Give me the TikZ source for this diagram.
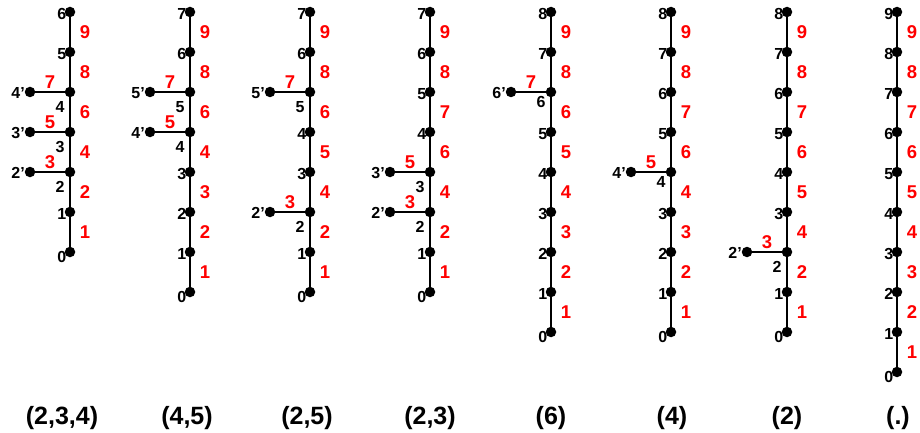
\documentclass[tikz,border=0pt]{standalone}
\usepackage{fontspec}
\setmainfont{Liberation Sans}
\usetikzlibrary{calc}
\tikzset{
  dot/.style={circle, fill=black, inner sep=0pt, minimum size=10.5pt},
  vlab/.style={font=\fontsize{16}{16}\selectfont\bfseries, inner sep=0pt, text=black},
  elab/.style={font=\fontsize{18.5}{18.5}\selectfont\bfseries, inner sep=0pt, text=red},
  capt/.style={font=\fontsize{25}{25}\selectfont\bfseries, inner sep=0pt, text=black, anchor=base},
  stem/.style={line width=2.3pt, draw=black}
}
% #1 id, #2 x, #3 n, #4 trunk edge labels, #5 plain nodes
\newcommand\mytrunk[5]{%
  \foreach \k in {0,...,#3}{
    \node[dot] (t#1-\k) at (#2,{12+40*(#3-\k)}) {};
  }
  \foreach \lab [count=\k] in {#4}{
    \pgfmathtruncatemacro\j{\k-1}
    \draw[stem] (t#1-\j.center) -- (t#1-\k.center);
    \node[elab] (t#1-e\k) at ($($(t#1-\j.center)!0.5!(t#1-\k.center)$)+(15,0)$) {\lab};
  }
  \foreach \k in {#5}{
    \pgfmathsetmacro\dy{ifthenelse(\k==0,5,2)}
    \node[vlab, anchor=east] (t#1-v\k) at ($(t#1-\k.center)+(-3.5,\dy)$) {\k};
  }
}
% #1 id, #2 node, #3 red label, #4 dy of node label
\newcommand\mybranch[4]{%
  \node[dot] (t#1-#2p) at ($(t#1-#2.center)+(-40,0)$) {};
  \draw[stem] (t#1-#2.center) -- (t#1-#2p.center);
  \node[elab, anchor=south] (t#1-b#2) at ($($(t#1-#2.center)!0.5!(t#1-#2p.center)$)+(0,-3)$) {#3};
  \node[vlab, anchor=east] (t#1-q#2) at ($(t#1-#2p.center)+(-5,1)$) {#2’};
  \node[vlab] (t#1-v#2) at ($(t#1-#2.center)+(-10,#4)$) {#2};
}
\begin{document}
\begin{tikzpicture}[x=1pt,y=-1pt]
  \useasboundingbox (0,0) rectangle (920,433);
  % tree 1
  \mytrunk{1}{70}{6}{1,2,4,6,8,9}{0,1,5,6}
  \mybranch{1}{2}{3}{15}
  \mybranch{1}{3}{5}{15}
  \mybranch{1}{4}{7}{15}
  \node[capt] (c1) at (62,424) {(2,3,4)};
  % tree 2
  \mytrunk{2}{190}{7}{1,2,3,4,6,8,9}{0,1,2,3,6,7}
  \mybranch{2}{4}{5}{15}
  \mybranch{2}{5}{7}{15}
  \node[capt] (c2) at (187,424) {(4,5)};
  % tree 3
  \mytrunk{3}{310}{7}{1,2,4,5,6,8,9}{0,1,3,4,6,7}
  \mybranch{3}{2}{3}{15}
  \mybranch{3}{5}{7}{15}
  \node[capt] (c3) at (307,424) {(2,5)};
  % tree 4
  \mytrunk{4}{430}{7}{1,2,4,6,7,8,9}{0,1,4,5,6,7}
  \mybranch{4}{2}{3}{15}
  \mybranch{4}{3}{5}{15}
  \node[capt] (c4) at (430,424) {(2,3)};
  % tree 5
  \mytrunk{5}{551}{8}{1,2,3,4,5,6,8,9}{0,1,2,3,4,5,7,8}
  \mybranch{5}{6}{7}{10}
  \node[capt] (c5) at (551,424) {(6)};
  % tree 6
  \mytrunk{6}{671}{8}{1,2,3,4,6,7,8,9}{0,1,2,3,5,6,7,8}
  \mybranch{6}{4}{5}{10}
  \node[capt] (c6) at (672,424) {(4)};
  % tree 7
  \mytrunk{7}{787}{8}{1,2,4,5,6,7,8,9}{0,1,3,4,5,6,7,8}
  \mybranch{7}{2}{3}{15}
  \node[capt] (c7) at (787,424) {(2)};
  % tree 8
  \mytrunk{8}{897}{9}{1,2,3,4,5,6,7,8,9}{0,1,2,3,4,5,6,7,8,9}
  \node[capt] (c8) at (898,424) {(.)};
\end{tikzpicture}
\end{document}
